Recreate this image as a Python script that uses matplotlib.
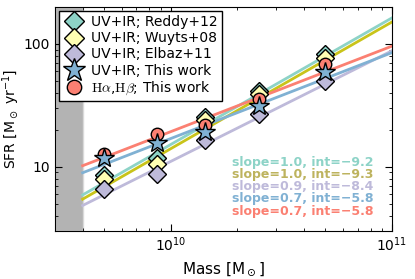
import matplotlib
matplotlib.use('Agg')
import matplotlib.pyplot as plt

# mass bins and SFR estimates
mass = [5.0e9, 8.7e9, 1.43e10, 2.5e10, 5.0e10]
sfr_reddy = [8.5, 11.7, 25.3, 41.7, 82.6]
sfr_wuyts = [7.9, 10.6, 23.9, 39.2, 77.5]
sfr_elbaz = [6.6, 8.7, 16.4, 27.0, 50.2]
sfr_uvir = [11.7, 15.6, 19.2, 31.5, 58.6]
sfr_ha = [12.8, 18.4, 21.7, 35.7, 68.5]

# best-fit lines, values at the ends of the plotted range
fit_mass = [4e9, 1e11]
fit_reddy = [5.9, 163]
fit_wuyts = [5.45, 151]
fit_elbaz = [4.84, 88]
fit_uvir = [8.94, 85]
fit_ha = [10.2, 96]

labels = ['UV+IR; Reddy+12', 'UV+IR; Wuyts+08', 'UV+IR; Elbaz+11',
          'UV+IR; This work', r'$\mathrm{H\alpha}$,$\mathrm{H\beta}$; This work']
fit_text = [u'slope=1.0, int=\u22129.2', u'slope=1.0, int=\u22129.3', u'slope=0.9, int=\u22128.4',
            u'slope=0.7, int=\u22125.8', u'slope=0.7, int=\u22125.8']

c_teal = '#8dd3c7'
c_yel = '#ffffb3'
c_lav = '#bebada'
c_blue = '#80b1d3'
c_red = '#fb8072'
line_yel = '#c9c41a'
text_colors = [c_teal, '#bdb35e', c_lav, c_blue, c_red]

plt.rcParams['xtick.direction'] = 'in'
plt.rcParams['ytick.direction'] = 'in'
plt.rcParams['xtick.top'] = True
plt.rcParams['ytick.right'] = True
plt.rcParams['xtick.major.size'] = 5
plt.rcParams['ytick.major.size'] = 5
plt.rcParams['xtick.minor.size'] = 2.5
plt.rcParams['ytick.minor.size'] = 2.5

fig = plt.figure(figsize=(4.15, 2.79), dpi=100)
ax = fig.add_axes([0.1325, 0.172, 0.812, 0.803])

ax.axvspan(3e9, 4e9, facecolor='0.7', edgecolor='0.85', lw=1, zorder=1)

ax.plot(fit_mass, fit_reddy, color=c_teal, lw=2, zorder=2)
ax.plot(fit_mass, fit_wuyts, color=line_yel, lw=2, zorder=2)
ax.plot(fit_mass, fit_elbaz, color=c_lav, lw=2, zorder=2)
ax.plot(fit_mass, fit_uvir, color=c_blue, lw=2, zorder=2)
ax.plot(fit_mass, fit_ha, color=c_red, lw=2, zorder=2)

h1, = ax.plot(mass, sfr_reddy, 'D', ms=9, mfc=c_teal, mec='k', mew=1, zorder=3, label=labels[0])
h2, = ax.plot(mass, sfr_wuyts, 'D', ms=9, mfc=c_yel, mec='k', mew=1, zorder=4, label=labels[1])
h3, = ax.plot(mass, sfr_elbaz, 'D', ms=9, mfc=c_lav, mec='k', mew=1, zorder=5, label=labels[2])
h5, = ax.plot(mass, sfr_ha, 'o', ms=9, mfc=c_red, mec='k', mew=1, zorder=6, label=labels[4])
h4, = ax.plot(mass, sfr_uvir, '*', ms=15, mfc=c_blue, mec='k', mew=1, zorder=7, label=labels[3])

ax.set_xscale('log')
ax.set_yscale('log')
ax.set_xlim(3e9, 1e11)
ax.set_ylim(3, 200)
ax.set_yticks([10, 100])
ax.set_yticklabels(['10', '100'])
ax.tick_params(labelsize=10)
ax.set_xlabel(r'Mass [M$_\odot$]', fontsize=11)
ax.set_ylabel(r'SFR [M$_\odot$ yr$^{-1}$]', fontsize=10)
ax.yaxis.set_label_coords(-0.097, 0.5)

leg = ax.legend([h1, h2, h3, h4, h5], labels, loc='upper left', numpoints=1, fontsize=10,
                markerscale=1.15, fancybox=False, framealpha=1, edgecolor='k',
                labelspacing=0.15, handletextpad=0.5, handlelength=1.5, borderpad=0.3,
                borderaxespad=0.3)
leg.get_frame().set_linewidth(1)
leg.get_texts()[4].set_math_fontfamily('cm')

for i, (txt, col) in enumerate(zip(fit_text, text_colors)):
    ax.text(0.945, 0.305 - i * 0.054, txt, color=col, fontsize=9, fontweight='bold',
            ha='right', va='center', transform=ax.transAxes)

fig.savefig('out.png', dpi=100)
